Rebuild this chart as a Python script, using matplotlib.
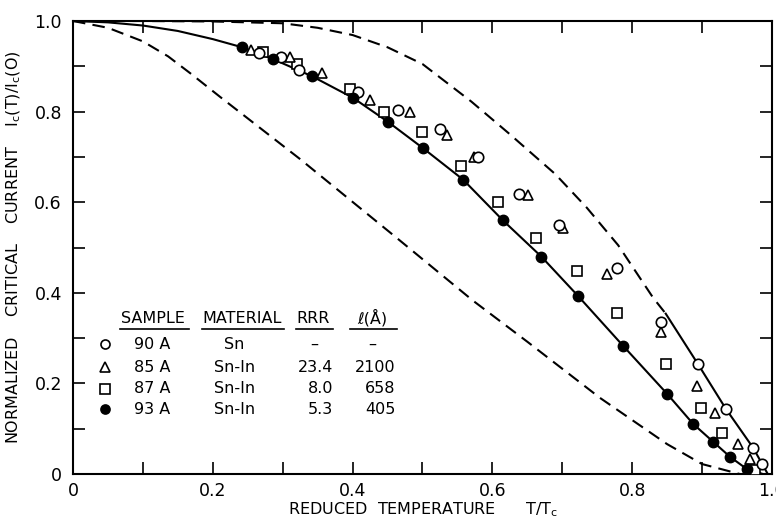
import matplotlib.pyplot as plt
from matplotlib.ticker import MultipleLocator

# measured points, T/Tc and Ic(T)/Ic(0)
t_90a = [0.266, 0.298, 0.323, 0.408, 0.465, 0.525, 0.579, 0.638, 0.695, 0.778, 0.841, 0.894, 0.934, 0.973, 0.986]
ic_90a = [0.929, 0.920, 0.892, 0.843, 0.803, 0.761, 0.699, 0.619, 0.549, 0.454, 0.336, 0.243, 0.144, 0.058, 0.022]

t_85a = [0.255, 0.310, 0.356, 0.425, 0.482, 0.535, 0.574, 0.651, 0.701, 0.764, 0.841, 0.893, 0.918, 0.951, 0.969]
ic_85a = [0.936, 0.920, 0.885, 0.825, 0.799, 0.748, 0.699, 0.617, 0.542, 0.442, 0.314, 0.195, 0.135, 0.066, 0.033]

t_87a = [0.272, 0.320, 0.396, 0.445, 0.499, 0.555, 0.608, 0.662, 0.721, 0.778, 0.848, 0.898, 0.928, 0.976]
ic_87a = [0.931, 0.905, 0.850, 0.799, 0.754, 0.679, 0.600, 0.522, 0.449, 0.356, 0.243, 0.146, 0.091, 0.008]

t_93a = [0.242, 0.286, 0.342, 0.401, 0.451, 0.501, 0.558, 0.615, 0.670, 0.722, 0.787, 0.850, 0.887, 0.916, 0.940, 0.964]
ic_93a = [0.942, 0.916, 0.878, 0.830, 0.777, 0.719, 0.650, 0.560, 0.480, 0.394, 0.283, 0.177, 0.111, 0.071, 0.038, 0.011]

# curves
fit_t = [0.0, 0.05, 0.10, 0.15, 0.20, 0.242, 0.286, 0.342, 0.401, 0.451, 0.501, 0.558, 0.615, 0.670,
         0.722, 0.787, 0.850, 0.887, 0.916, 0.940, 0.964, 0.987]
fit_ic = [1.0, 0.997, 0.990, 0.978, 0.960, 0.942, 0.916, 0.878, 0.830, 0.777, 0.719, 0.650, 0.560, 0.480,
          0.394, 0.283, 0.177, 0.111, 0.071, 0.038, 0.011, 0.0]

tail_t = [0.848, 0.894, 0.934, 0.973, 0.994]
tail_ic = [0.354, 0.243, 0.144, 0.058, 0.0]

upper_t = [0.0, 0.1, 0.2, 0.3, 0.35, 0.4, 0.45, 0.5, 0.57, 0.625, 0.69, 0.735, 0.78, 0.83, 0.848]
upper_ic = [1.0, 1.0, 0.999, 0.995, 0.985, 0.969, 0.942, 0.905, 0.822, 0.750, 0.662, 0.588, 0.505, 0.389, 0.354]

lower_t = [0.0, 0.05, 0.1, 0.136, 0.17, 0.21, 0.325, 0.468, 0.572, 0.65, 0.754, 0.85, 0.9, 0.954]
lower_ic = [1.0, 0.985, 0.955, 0.922, 0.882, 0.833, 0.695, 0.515, 0.383, 0.292, 0.168, 0.066, 0.022, 0.0]

# legend table
samples = ['90 A', '85 A', '87 A', '93 A']
materials = ['Sn', 'Sn-In', 'Sn-In', 'Sn-In']
rrr = ['–', '23.4', '8.0', '5.3']
mfp = ['–', '2100', '658', '405']

plt.rcParams['font.family'] = 'DejaVu Sans'

fig = plt.figure(figsize=(7.76, 5.25), dpi=100)
ax = fig.add_axes([0.0941, 0.0971, 0.9007, 0.8629])

ax.plot(upper_t, upper_ic, color='black', lw=1.5, linestyle=(0, (6, 3.5)))
ax.plot(lower_t, lower_ic, color='black', lw=1.5, linestyle=(0, (6, 3.5)))
ax.plot(fit_t, fit_ic, color='black', lw=1.5)
ax.plot(tail_t, tail_ic, color='black', lw=1.5)

ms = 7.5
ax.plot(t_87a, ic_87a, 's', ms=ms - 1, mfc='white', mec='black', mew=1.2, zorder=3)
ax.plot(t_85a, ic_85a, '^', ms=ms, mfc='white', mec='black', mew=1.2, zorder=3)
ax.plot(t_90a, ic_90a, 'o', ms=ms, mfc='white', mec='black', mew=1.2, zorder=4)
ax.plot(t_93a, ic_93a, 'o', ms=ms, color='black', zorder=5)

ax.set_xlim(0, 1.0)
ax.set_ylim(0, 1.0)
ax.xaxis.set_major_locator(MultipleLocator(0.2))
ax.xaxis.set_minor_locator(MultipleLocator(0.1))
ax.yaxis.set_major_locator(MultipleLocator(0.2))
ax.yaxis.set_minor_locator(MultipleLocator(0.1))
ax.set_xticks([0, 0.2, 0.4, 0.6, 0.8, 1.0])
ax.set_xticklabels(['0', '0.2', '0.4', '0.6', '0.8', '1.0'])
ax.set_yticks([0, 0.2, 0.4, 0.6, 0.8, 1.0])
ax.set_yticklabels(['0', '0.2', '0.4', '0.6', '0.8', '1.0'])
ax.tick_params(which='both', direction='in', top=True, right=True, length=8.5, width=1.2)
ax.tick_params(axis='x', which='major', labelsize=12.5, pad=6)
ax.tick_params(axis='y', which='major', labelsize=12.5, pad=8)
for s in ax.spines.values():
    s.set_linewidth(1.5)

ax.set_xlabel('REDUCED  TEMPERATURE      T/T$_\\mathrm{c}$', fontsize=11.5, labelpad=0)
ax.set_ylabel('NORMALIZED    CRITICAL    CURRENT    I$_\\mathrm{c}$(T)/I$_\\mathrm{c}$(O)',
              fontsize=11.5, labelpad=8)

# table-style legend
fs = 11.5
head_y = 0.344
for x, txt in [(0.114, 'SAMPLE'), (0.242, 'MATERIAL'), (0.343, 'RRR'), (0.428, 'ℓ(Å)')]:
    ax.text(x, head_y, txt, ha='center', va='center', fontsize=fs)
for x0, x1 in [(0.067, 0.166), (0.185, 0.302), (0.319, 0.372), (0.396, 0.464)]:
    ax.plot([x0, x1], [0.320, 0.320], color='black', lw=1.2)

row_y = [0.287, 0.236, 0.188, 0.143]
styles = [dict(marker='o', mfc='white'), dict(marker='^', mfc='white'),
          dict(marker='s', mfc='white'), dict(marker='o', mfc='black')]
for y, st, smp, mat, r, l in zip(row_y, styles, samples, materials, rrr, mfp):
    ax.plot([0.046], [y], linestyle='none', ms=ms - 1, mec='black', mew=1.2, **st)
    ax.text(0.113, y, smp, ha='center', va='center', fontsize=fs)
    ax.text(0.231, y, mat, ha='center', va='center', fontsize=fs)
    if r == '–':
        ax.text(0.345, y, r, ha='center', va='center', fontsize=fs)
    else:
        ax.text(0.372, y, r, ha='right', va='center', fontsize=fs)
    if l == '–':
        ax.text(0.428, y, l, ha='center', va='center', fontsize=fs)
    else:
        ax.text(0.461, y, l, ha='right', va='center', fontsize=fs)

plt.savefig('out.png', dpi=100)
